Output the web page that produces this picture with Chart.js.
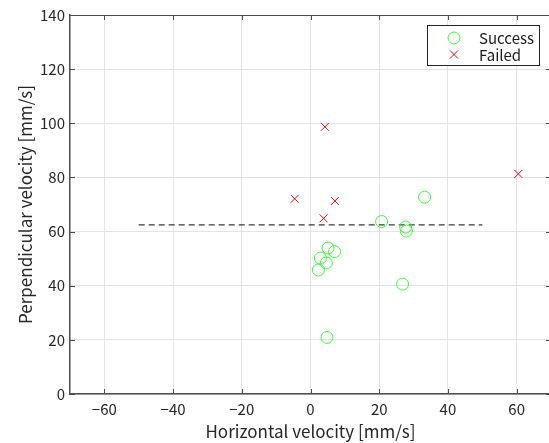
<!DOCTYPE html>
<html>
<head>
<meta charset="utf-8">
<script src="https://cdn.jsdelivr.net/npm/chart.js@4/dist/chart.umd.min.js"></script>
<style>
  html, body { margin: 0; padding: 0; background: #fff; overflow: hidden; }
</style>
</head>
<body>
<canvas id="myChart" width="558" height="443"></canvas>
<script>
const successX = [20.7, 27.7, 27.9, 33.2, 5.1, 7.0, 2.9, 4.6, 2.3, 26.8, 4.8];
const successY = [63.7, 61.7, 60.2, 72.7, 53.9, 52.6, 50.2, 48.4, 45.8, 40.6, 20.9];
const failedX = [4.2, -4.6, 7.1, 3.8, 60.5];
const failedY = [98.7, 72.1, 71.3, 64.9, 81.3];
const lineX = [-50, 50];
const lineY = [62.5, 62.5];
const xTicks = [-60, -40, -20, 0, 20, 40, 60];
const yTicks = [0, 20, 40, 60, 80, 100, 120, 140];

const toPoints = (xs, ys) => xs.map((x, i) => ({x: x, y: ys[i]}));
const FONT = '"Noto Sans CJK JP", "Noto Sans", sans-serif';
const AXIS = '#4d4d4d';

// MATLAB style box: top line, inward ticks, legend with border
const boxPlugin = {
  id: 'box',
  afterDraw(chart) {
    const c = chart.ctx;
    const a = chart.chartArea;
    const xs = chart.scales.x, ys = chart.scales.y;
    c.save();
    c.strokeStyle = AXIS;
    c.lineWidth = 1;
    c.beginPath();
    c.moveTo(a.left, a.top + 0.5);
    c.lineTo(a.right, a.top + 0.5);
    xTicks.forEach(v => {
      const px = Math.round(xs.getPixelForValue(v)) + 0.5;
      c.moveTo(px, a.bottom); c.lineTo(px, a.bottom - 5);
      c.moveTo(px, a.top); c.lineTo(px, a.top + 5);
    });
    yTicks.forEach(v => {
      const py = Math.round(ys.getPixelForValue(v)) + 0.5;
      c.moveTo(a.left, py); c.lineTo(a.left + 5, py);
      c.moveTo(a.right, py); c.lineTo(a.right - 5, py);
    });
    c.stroke();

    // legend
    const lx = 427, ly = 25, lw = 112, lh = 40;
    c.fillStyle = '#fff';
    c.fillRect(lx, ly, lw, lh);
    c.strokeStyle = '#262626';
    c.strokeRect(lx + 0.5, ly + 0.5, lw, lh);
    c.strokeStyle = '#33ff33';
    c.beginPath();
    c.arc(454, 38, 6, 0, Math.PI * 2);
    c.stroke();
    c.strokeStyle = '#ff0000';
    c.beginPath();
    c.moveTo(450, 50.5); c.lineTo(458, 58.5);
    c.moveTo(458, 50.5); c.lineTo(450, 58.5);
    c.stroke();
    c.fillStyle = '#1a1a1a';
    c.font = '15px ' + FONT;
    c.textBaseline = 'middle';
    c.fillText('Success', 479, 38);
    c.fillText('Failed', 479, 55);
    c.restore();
  }
};

new Chart(document.getElementById('myChart'), {
  type: 'scatter',
  data: {
    datasets: [
      {
        label: 'Success',
        data: toPoints(successX, successY),
        pointStyle: 'circle',
        pointRadius: 6,
        borderColor: '#33ff33',
        backgroundColor: 'rgba(0,0,0,0)',
        borderWidth: 1
      },
      {
        label: 'Failed',
        data: toPoints(failedX, failedY),
        pointStyle: 'crossRot',
        pointRadius: 5.6,
        borderColor: '#ff0000',
        borderWidth: 1
      },
      {
        type: 'line',
        label: 'threshold',
        data: toPoints(lineX, lineY),
        borderColor: '#3a3a3a',
        borderWidth: 1.3,
        borderDash: [6, 4],
        pointRadius: 0,
        fill: false
      }
    ]
  },
  options: {
    responsive: false,
    animation: false,
    layout: { padding: { top: 15, right: 1, left: 0, bottom: 0 } },
    plugins: { legend: { display: false }, tooltip: { enabled: false } },
    scales: {
      x: {
        type: 'linear',
        min: -70,
        max: 70,
        afterBuildTicks: s => { s.ticks = xTicks.map(v => ({value: v})); },
        afterFit: s => { s.height = 49; },
        grid: { color: '#e3e3e3', drawTicks: false },
        border: { color: AXIS, width: 1.5 },
        ticks: {
          padding: 6,
          color: '#262626',
          font: { family: FONT, size: 15 },
          callback: v => v < 0 ? '\u2212' + Math.abs(v) : String(v)
        },
        title: {
          display: true,
          text: 'Horizontal velocity [mm/s]',
          color: '#262626',
          font: { family: FONT, size: 17 },
          padding: { top: 0, bottom: 1 }
        }
      },
      y: {
        type: 'linear',
        min: 0,
        max: 140,
        afterBuildTicks: s => { s.ticks = yTicks.map(v => ({value: v})); },
        afterFit: s => { s.width = 70; },
        grid: { color: '#e3e3e3', drawTicks: false },
        border: { color: AXIS, width: 1.5 },
        ticks: {
          padding: 5,
          color: '#262626',
          font: { family: FONT, size: 15 }
        },
        title: {
          display: true,
          text: 'Perpendicular velocity [mm/s]',
          color: '#262626',
          font: { family: FONT, size: 17 },
          padding: { top: 15, bottom: 0 }
        }
      }
    }
  },
  plugins: [boxPlugin]
});
</script>
</body>
</html>
